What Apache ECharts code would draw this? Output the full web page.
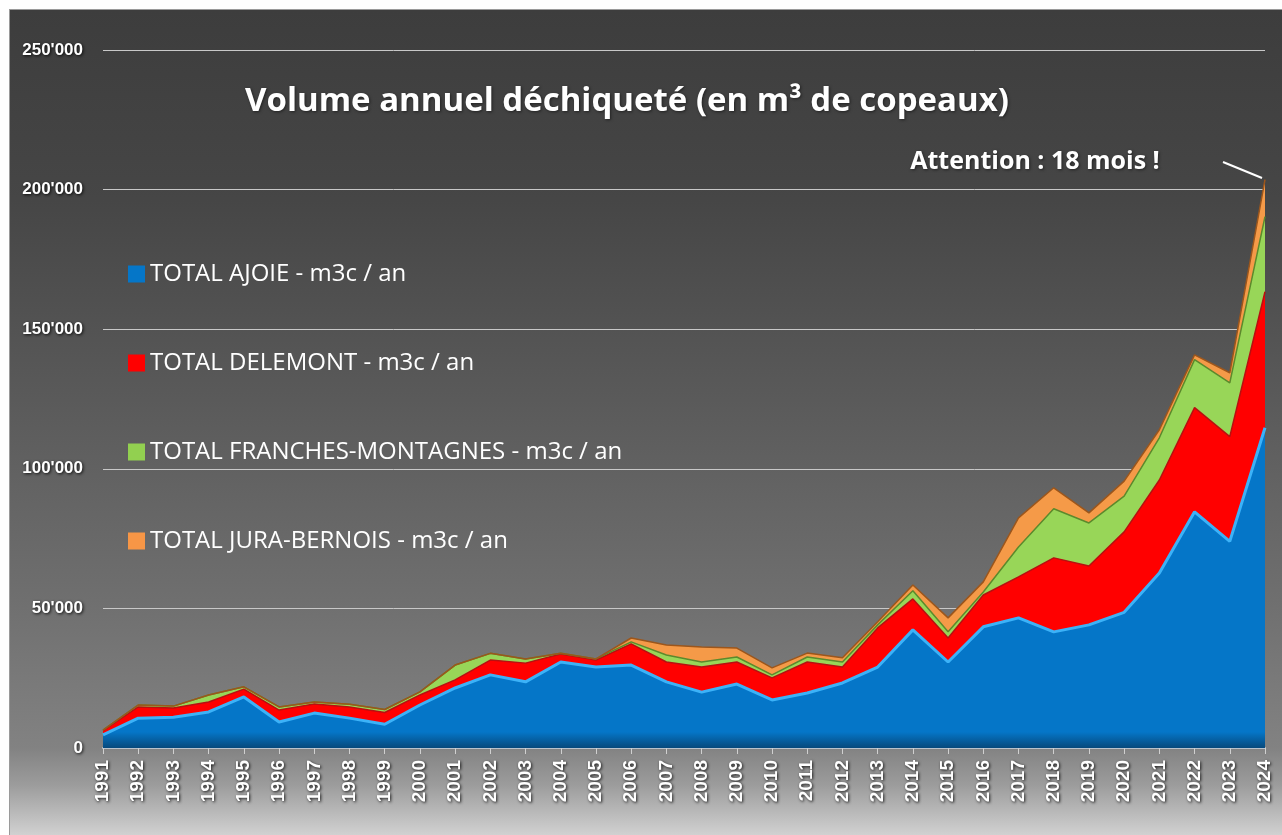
<!DOCTYPE html>
<html>
<head>
<meta charset="utf-8">
<script src="https://cdn.jsdelivr.net/npm/echarts@6/dist/echarts.min.js"></script>
<style>
  html, body { margin: 0; padding: 0; background: #ffffff; }
  #bg {
    position: absolute; left: 9px; top: 9px; width: 1290px; height: 840px;
    border-left: 1px solid #9a9a9a; border-top: 1px solid #9a9a9a;
    background: linear-gradient(to bottom, #3d3d3d 0px, #464646 190px, #5a5a5a 390px, #6f6f6f 590px, #828282 738px, #9c9c9c 775px, #d2d2d2 826px);
  }
  #chart { position: absolute; left: 0; top: 0; width: 1282px; height: 835px; }
</style>
</head>
<body>
<div id="bg"></div>
<div id="chart"></div>
<script>
const years = ['1991','1992','1993','1994','1995','1996','1997','1998','1999','2000','2001','2002','2003','2004','2005','2006','2007','2008','2009','2010','2011','2012','2013','2014','2015','2016','2017','2018','2019','2020','2021','2022','2023','2024'];
const ajoie = [4700,10700,11000,12900,18300,9300,12500,10700,8500,15400,21500,26200,23700,30800,29000,29700,23700,20000,22900,17200,19700,23300,29000,42300,30800,43400,46600,41600,44100,48600,62700,84600,74000,114700];
const delemont = [1500,4000,3300,3600,2800,4300,3300,4000,4200,3600,2900,5300,6700,2900,2500,7600,7100,9000,7900,7900,11100,5700,14000,11100,8600,11400,14700,26500,21100,28800,33300,37300,37500,48700];
const franches = [200,700,700,2500,800,1100,700,1000,1100,1100,5300,2400,1500,200,400,700,2500,1800,1800,1100,1800,1800,1100,2900,2200,1100,10700,17600,15400,12800,15100,17200,19300,26900];
const juraBernois = [0,0,0,0,0,0,0,0,0,0,0,0,0,0,0,1400,3600,5400,3200,2500,1400,1500,1100,2100,5000,3600,10400,7500,3600,5400,2900,1700,3600,13300];
const seriesNames = ['TOTAL AJOIE - m3c / an','TOTAL DELEMONT - m3c / an','TOTAL FRANCHES-MONTAGNES - m3c / an','TOTAL JURA-BERNOIS - m3c / an'];
const yTicks = { min: 0, max: 250000, interval: 50000 };

const chart = echarts.init(document.getElementById('chart'), null, { renderer: 'canvas' });

function fmt(v) {
  return String(v).replace(/\B(?=(\d{3})+(?!\d))/g, "'");
}

function mk(name, data, color, lineColor, lineWidth, fill) {
  return {
    name: name, type: 'line', stack: 'total', data: data,
    showSymbol: false, symbol: 'none',
    itemStyle: { color: color },
    lineStyle: { color: lineColor, width: lineWidth },
    areaStyle: { color: fill, opacity: 1 },
    emphasis: { disabled: true }
  };
}

const blueFill = new echarts.graphic.LinearGradient(0, 0, 0, 1, [
  { offset: 0, color: '#0576c8' }, { offset: 0.95, color: '#0576c8' }, { offset: 1, color: '#06497c' }
]);

const option = {
  backgroundColor: 'transparent',
  animation: false,
  grid: { left: 103, right: 17, top: 50, bottom: 87, containLabel: false },
  legend: {
    orient: 'vertical', left: 128, top: 262, itemGap: 65, padding: 0,
    icon: 'rect', itemWidth: 17, itemHeight: 17, selectedMode: false,
    data: seriesNames,
    textStyle: { color: '#ffffff', fontSize: 24, fontFamily: '"Open Sans", sans-serif' }
  },
  xAxis: {
    type: 'category', data: years, boundaryGap: false,
    axisLine: { show: true, lineStyle: { color: '#b8c2cc', width: 2 } },
    axisTick: { show: true, alignWithLabel: true, length: 6, lineStyle: { color: '#d0d0d0' } },
    axisLabel: {
      interval: 0, rotate: 90, margin: 12, color: '#ffffff', fontSize: 19, fontWeight: 'bold',
      fontFamily: '"Liberation Sans", sans-serif',
      textShadowColor: 'rgba(0,0,0,0.85)', textShadowBlur: 3, textShadowOffsetX: 1, textShadowOffsetY: 1
    }
  },
  yAxis: {
    type: 'value', min: yTicks.min, max: yTicks.max, interval: yTicks.interval,
    axisLine: { show: false }, axisTick: { show: false },
    splitLine: { show: true, lineStyle: { color: '#c8c8c8', width: 1 } },
    axisLabel: {
      margin: 20, color: '#ffffff', fontSize: 17, fontWeight: 'bold',
      fontFamily: '"Liberation Sans", sans-serif',
      formatter: fmt,
      textShadowColor: 'rgba(0,0,0,0.85)', textShadowBlur: 3, textShadowOffsetX: 1, textShadowOffsetY: 1
    }
  },
  series: [
    mk(seriesNames[0], ajoie, '#0576c8', '#3cb2f8', 3, blueFill),
    mk(seriesNames[1], delemont, '#ff0000', '#b81010', 1.5, '#ff0000'),
    mk(seriesNames[2], franches, '#92d050', '#5c8a2c', 1.5, '#98d658'),
    mk(seriesNames[3], juraBernois, '#f79646', '#9c561c', 1.5, '#f59a48')
  ],
  graphic: [
    {
      type: 'text', x: 627, y: 102,
      style: {
        text: 'Volume annuel déchiqueté (en m³ de copeaux)',
        fill: '#ffffff', font: 'bold 33px "Open Sans", sans-serif',
        textAlign: 'center', textVerticalAlign: 'middle',
        textShadowColor: 'rgba(0,0,0,0.5)', textShadowBlur: 3, textShadowOffsetX: 1, textShadowOffsetY: 1
      }
    },
    {
      type: 'text', x: 1035, y: 162,
      style: {
        text: 'Attention : 18 mois !',
        fill: '#ffffff', font: 'bold 25px "Open Sans", sans-serif',
        textAlign: 'center', textVerticalAlign: 'middle',
        textShadowColor: 'rgba(0,0,0,0.5)', textShadowBlur: 3, textShadowOffsetX: 1, textShadowOffsetY: 1
      }
    },
    {
      type: 'line', shape: { x1: 1223, y1: 162, x2: 1262, y2: 178 },
      style: { stroke: '#ffffff', lineWidth: 2 }
    }
  ]
};
chart.setOption(option);
</script>
</body>
</html>
